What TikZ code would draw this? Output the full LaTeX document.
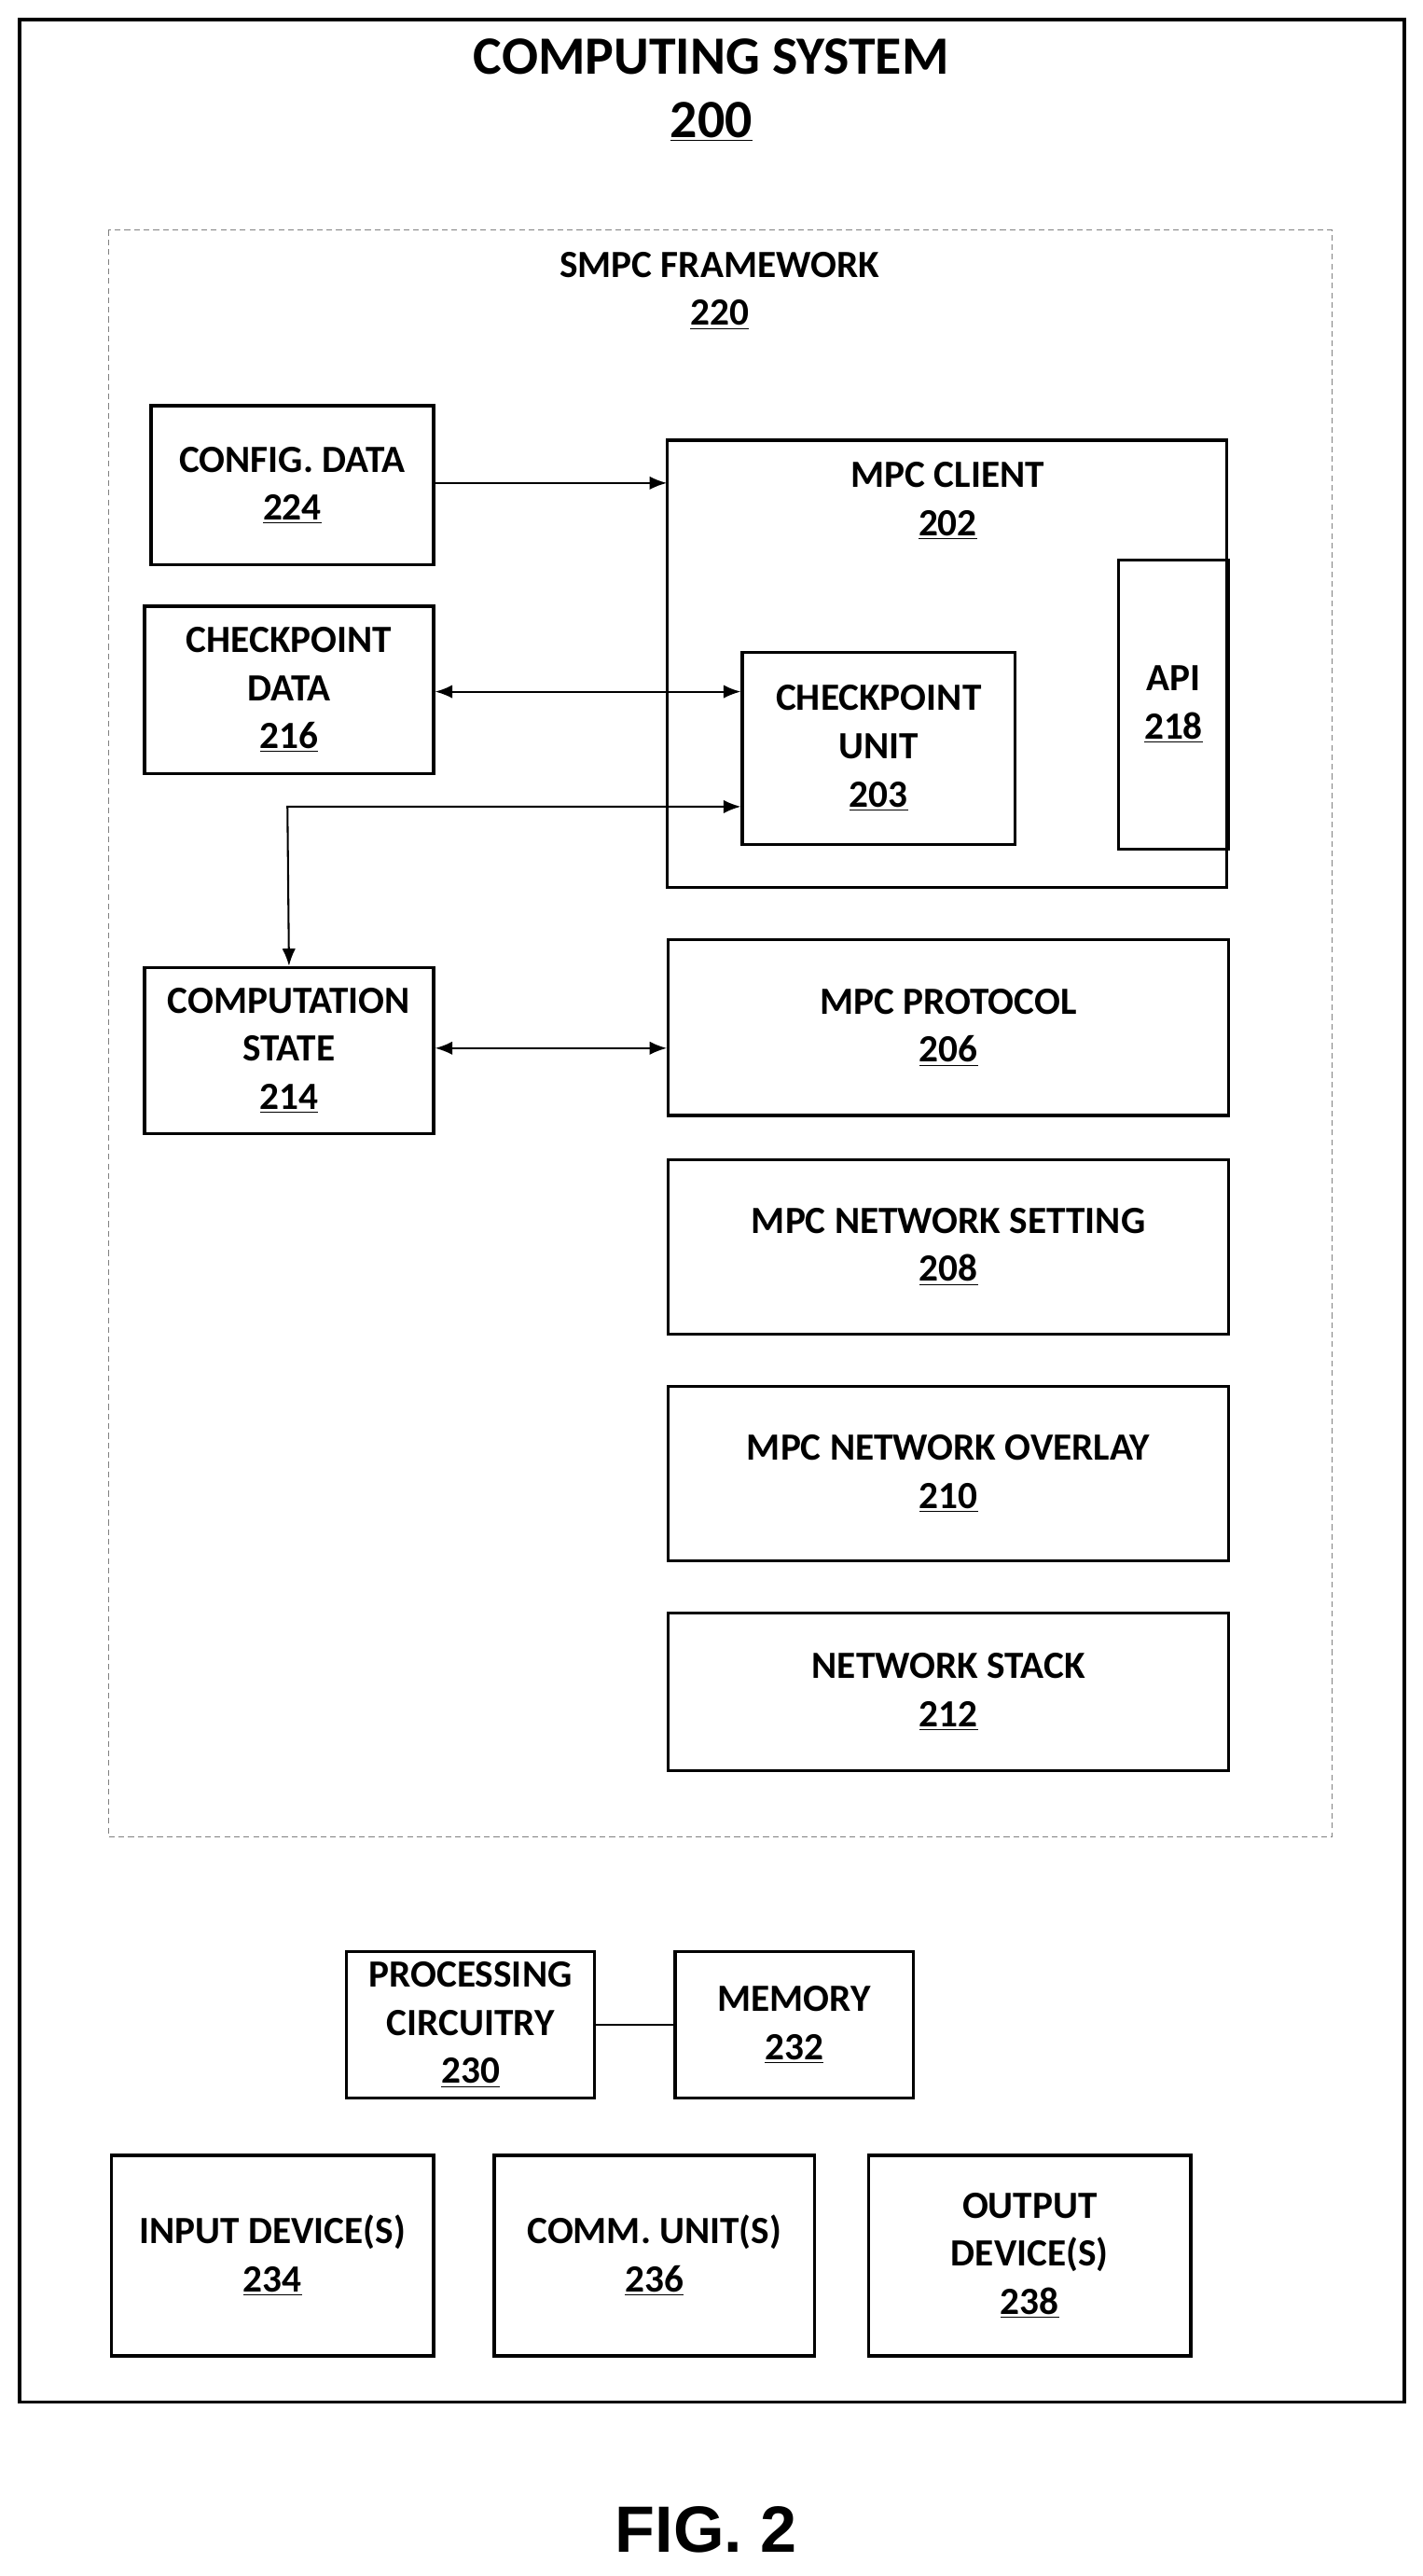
\documentclass[tikz,border=0pt]{standalone}
\usepackage{fontspec}
\setmainfont{Carlito}
\newfontfamily\figfont{Liberation Sans}
\usetikzlibrary{arrows.meta}
\tikzset{>=latex}
\tikzset{
  blk/.style={draw=black, line width=1.6pt, anchor=north west, align=center,
    font=\fontsize{20}{25}\selectfont\bfseries, inner sep=0pt},
  link/.style={line width=1pt, {Latex[length=9pt,width=7pt]}-{Latex[length=9pt,width=7pt]}}
}
\newcommand{\num}[1]{\underline{#1}}
\begin{document}
\begin{tikzpicture}[x=0.03cm, y=-0.03cm]
\useasboundingbox (0,0) rectangle (866,1568);

% outer frame and framework
\draw[line width=1.6pt] (12,12) rectangle (855,1462);
\node[font=\fontsize{28}{33}\selectfont\bfseries, align=center] (title) at (433,55) {COMPUTING SYSTEM\\\num{200}};
\draw[gray, line width=0.5pt, dash pattern=on 3pt off 2pt] (66,140) rectangle (811,1118);
\node[font=\fontsize{20}{25}\selectfont\bfseries, align=center] (smpc) at (438,177) {SMPC FRAMEWORK\\\num{220}};

% left column
\node[blk, minimum width=172*0.03cm, minimum height=97*0.03cm] (cfg) at (91,246) {CONFIG. DATA\\\num{224}};
\node[blk, minimum width=176*0.03cm, minimum height=102*0.03cm] (ckd) at (87,368) {CHECKPOINT\\DATA\\\num{216}};
\node[blk, minimum width=176*0.03cm, minimum height=101*0.03cm] (cst) at (87,588) {COMPUTATION\\STATE\\\num{214}};

% MPC client
\draw[line width=1.6pt] (406,268) rectangle (747,540);
\node[font=\fontsize{20}{25}\selectfont\bfseries, align=center] (client) at (577,305) {MPC CLIENT\\\num{202}};
\coordinate (cl) at (406,294);
\node[blk, minimum width=67*0.03cm, minimum height=176*0.03cm] (api) at (680,340) {API\\\num{218}};
\node[blk, minimum width=166*0.03cm, minimum height=117*0.03cm] (cku) at (451,396) {CHECKPOINT\\UNIT\\\num{203}};

% right stack
\node[blk, minimum width=341*0.03cm, minimum height=107*0.03cm] (prot) at (406,571) {MPC PROTOCOL\\\num{206}};
\node[blk, minimum width=341*0.03cm, minimum height=106*0.03cm] (nset) at (406,705) {MPC NETWORK SETTING\\\num{208}};
\node[blk, minimum width=341*0.03cm, minimum height=106*0.03cm] (novl) at (406,843) {MPC NETWORK OVERLAY\\\num{210}};
\node[blk, minimum width=341*0.03cm, minimum height=96*0.03cm] (nstk) at (406,981) {NETWORK STACK\\\num{212}};

% connectors
\draw[line width=1pt, -{Latex[length=9pt,width=7pt]}] (cfg.east |- cl) -- (cl);
\draw[link] (ckd.east |- 0,421) -- (cku.west |- 0,421);
\draw[link] (cst.north) -- (175,491) -- (cku.west |- 0,491);
\draw[link] (cst.east |- 0,638) -- (prot.west |- 0,638);

% hardware
\node[blk, minimum width=151*0.03cm, minimum height=89*0.03cm] (proc) at (210,1187) {PROCESSING\\CIRCUITRY\\\num{230}};
\node[blk, minimum width=145*0.03cm, minimum height=89*0.03cm] (mem) at (410,1187) {MEMORY\\\num{232}};
\draw[line width=1pt] (proc.east) -- (mem.west);
\node[blk, minimum width=196*0.03cm, minimum height=122*0.03cm] (inp) at (67,1311) {INPUT DEVICE(S)\\\num{234}};
\node[blk, minimum width=195*0.03cm, minimum height=122*0.03cm] (comm) at (300,1311) {COMM. UNIT(S)\\\num{236}};
\node[blk, minimum width=196*0.03cm, minimum height=122*0.03cm] (outp) at (528,1311) {OUTPUT\\DEVICE(S)\\\num{238}};

\node[font=\figfont\fontsize{34}{40}\selectfont\bfseries] (fig) at (430,1540) {FIG. 2};
\end{tikzpicture}
\end{document}
